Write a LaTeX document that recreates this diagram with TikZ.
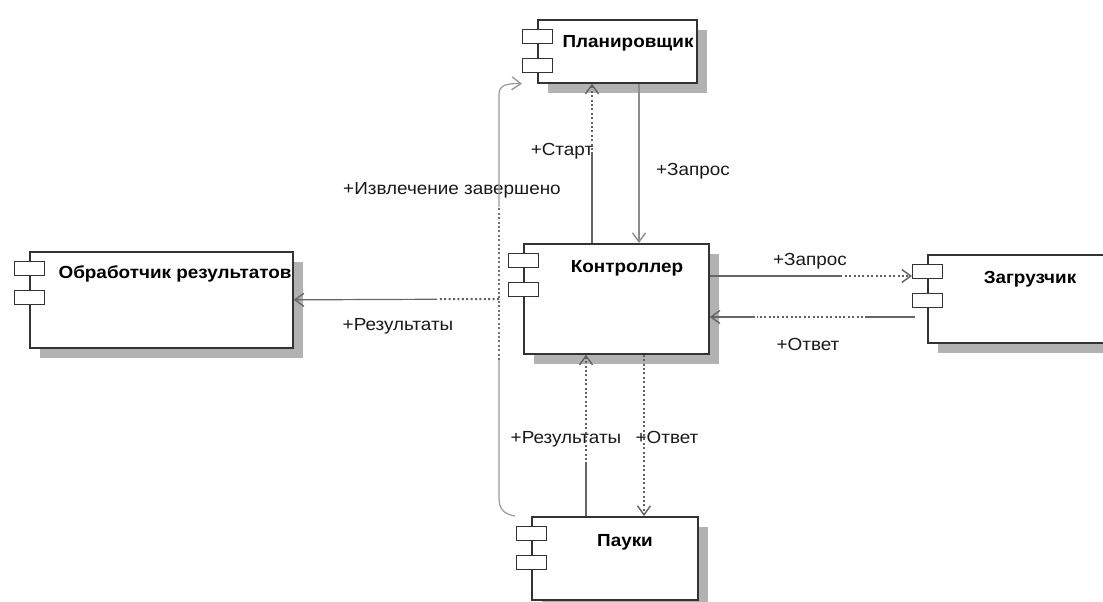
\documentclass[tikz,border=0pt]{standalone}
\usepackage{fontspec}
\setmainfont[FakeStretch=1.08]{Liberation Sans}
\usetikzlibrary{arrows.meta,shadows,calc}
\begin{document}
\begin{tikzpicture}[x=1pt,y=-1pt,
  comp/.style={draw=black!80,line width=1.7pt,fill=white,inner sep=0pt,anchor=north west,
     general shadow={fill=black!30,shadow xshift=10pt,shadow yshift=-10pt}},
  icon/.style={draw=black!80,line width=1.4pt,fill=white,inner sep=0pt,
     minimum width=30pt,minimum height=14pt,anchor=north west},
  cname/.style={font=\fontsize{17.5}{20}\selectfont\bfseries,text=black,anchor=base,inner sep=0pt},
  clab/.style={font=\fontsize{17.5}{20}\selectfont,text=black!90,anchor=base,inner sep=0pt},
  sol/.style={draw=black!60,line width=1.2pt},
  dot/.style={draw=black!62,line width=2pt,dash pattern=on 2pt off 2.4pt},
  tip/.style={-{Straight Barb[length=9pt,width=13pt,line width=1.4pt]}},
]
\useasboundingbox (0,0) rectangle (1103,602);
\clip (0,0) rectangle (1103,602);

% components
\node[comp,minimum width=159pt,minimum height=63pt] (plan) at (537,19) {};
\node[comp,minimum width=185pt,minimum height=110pt] (ctrl) at (523,243) {};
\node[comp,minimum width=200pt,minimum height=88pt] (load) at (927,254) {};
\node[comp,minimum width=263pt,minimum height=96pt] (proc) at (29,251) {};
\node[comp,minimum width=166pt,minimum height=83pt] (spid) at (531,516) {};

\foreach \c in {plan,ctrl,load,proc,spid}{
  \node[icon] (\c-a) at ($(\c.north west)+(-15,10)$) {};
  \node[icon] (\c-b) at ($(\c.north west)+(-15,39)$) {};
}

% names
\node[cname] (plan-t) at (628,48) {Планировщик};
\node[cname] (ctrl-t) at (627,272) {Контроллер};
\node[cname] (load-t) at (1030,283) {Загрузчик};
\node[cname] (proc-t) at (175,278) {Обработчик результатов};
\node[cname] (spid-t) at (625,546) {Пауки};

% labels
\node[clab] (l-start) at (562,155) {+Старт};
\node[clab] (l-req1) at (693,175) {+Запрос};
\node[clab] (l-done) at (452,194) {+Извлечение завершено};
\node[clab] (l-req2) at (810,265) {+Запрос};
\node[clab] (l-ans1) at (808,350) {+Ответ};
\node[clab] (l-res1) at (398,330) {+Результаты};
\node[clab] (l-res2) at (566,443) {+Результаты};
\node[clab] (l-ans2) at (667,443) {+Ответ};

% Старт
\draw[sol,shorten >=68pt] ($(ctrl.north west)+(69,0)$) -- ($(plan.south west)+(55,0)$);
\draw[dot,tip,shorten <=93pt] ($(ctrl.north west)+(69,0)$) -- ($(plan.south west)+(55,0)$);

% Запрос (vertical)
\draw[sol,draw=black!45,tip] ($(plan.south west)+(102,0)$) -- ($(ctrl.north west)+(116,0)$);

% Запрос (horizontal)
\draw[sol,shorten >=70pt] ($(ctrl.north east)+(0,33)$) -- ($(load.north west)+(-15,22)$);
\draw[dot,tip,shorten <=135pt] ($(ctrl.north east)+(0,33)$) -- ($(load.north west)+(-15,22)$);

% Ответ (horizontal)
\draw[sol,shorten >=155pt] ($(load.north west)+(-12,63)$) -- ($(ctrl.north east)+(0,74)$);
\draw[dot,shorten <=52pt,shorten >=47pt] ($(load.north west)+(-12,63)$) -- ($(ctrl.north east)+(0,74)$);
\draw[sol,tip,shorten <=160pt] ($(load.north west)+(-12,63)$) -- ($(ctrl.north east)+(0,74)$);

% loop: Пауки -> Планировщик
\coordinate (lpA) at (499,360);
\coordinate (lpB) at (499,207);
\coordinate (lpC) at (499,95);
\coordinate (lpD) at (499,498);
\draw[sol,draw=black!40] ($(spid.north west)+(-16,0)$) .. controls (503,514) and (499,508) .. (lpD) -- (lpA);
\draw[dot,draw=black!55] (lpA) -- (lpB);
\draw[sol,draw=black!40,tip] (lpB) -- (lpC) .. controls (499,87) and (503,83) .. ($(plan.south west)+(-15,0)$);

% Результаты (left)
\coordinate (j) at (499,299);
\draw[dot,shorten >=145pt] (j) -- (proc.east);
\draw[sol,tip,shorten <=62pt] (j) -- (proc.east);

% Результаты (bottom)
\draw[sol,shorten >=107pt] ($(spid.north west)+(55,0)$) -- ($(ctrl.south west)+(63,0)$);
\draw[dot,tip,shorten <=56pt] ($(spid.north west)+(55,0)$) -- ($(ctrl.south west)+(63,0)$);

% Ответ (bottom)
\draw[dot,tip] ($(ctrl.south west)+(121,0)$) -- ($(spid.north west)+(113,0)$);
\end{tikzpicture}
\end{document}
